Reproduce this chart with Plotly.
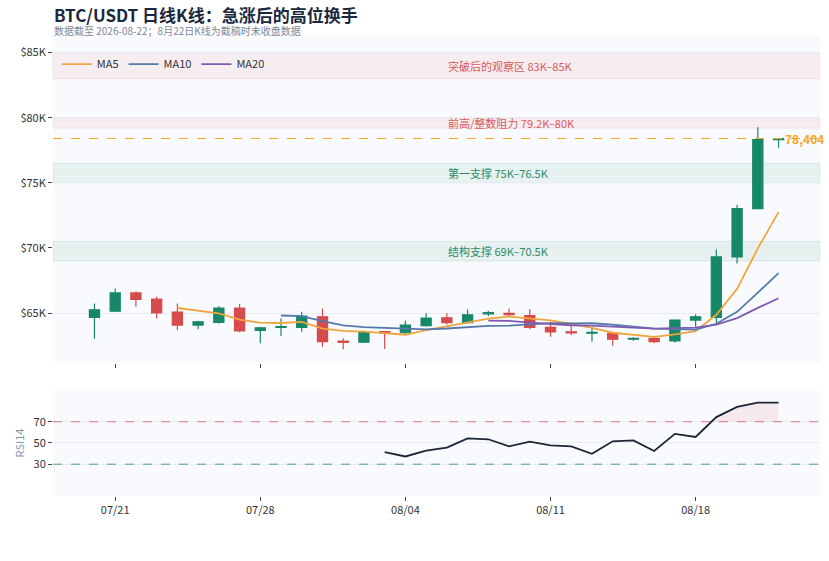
import plotly.graph_objects as go
from plotly.subplots import make_subplots
import pandas as pd

# ---------------- data ----------------
dates = ["2026-07-20", "2026-07-21", "2026-07-22", "2026-07-23", "2026-07-24", "2026-07-25",
         "2026-07-26", "2026-07-27", "2026-07-28", "2026-07-29", "2026-07-30", "2026-07-31",
         "2026-08-01", "2026-08-02", "2026-08-03", "2026-08-04", "2026-08-05", "2026-08-06",
         "2026-08-07", "2026-08-08", "2026-08-09", "2026-08-10", "2026-08-11", "2026-08-12",
         "2026-08-13", "2026-08-14", "2026-08-15", "2026-08-16", "2026-08-17", "2026-08-18",
         "2026-08-19", "2026-08-20", "2026-08-21", "2026-08-22"]
# prices in thousand USD
opens = [64.67, 65.15, 66.55, 66.07, 65.08, 64.08, 64.29, 65.38, 63.67, 63.90, 63.90, 64.72,
         62.85, 62.76, 63.58, 63.49, 64.03, 64.64, 64.26, 64.94, 64.98, 64.80, 63.90, 63.56,
         63.46, 63.45, 63.00, 63.06, 62.86, 64.46, 64.67, 69.31, 73.02, 78.32]
highs = [65.74, 66.89, 66.68, 66.25, 65.74, 64.41, 65.54, 65.69, 63.95, 64.59, 65.10, 65.36,
         63.06, 63.65, 63.62, 64.41, 64.98, 64.98, 65.28, 65.18, 65.36, 65.30, 64.33, 64.26,
         63.90, 63.57, 63.14, 63.24, 64.52, 64.92, 69.88, 73.32, 79.27, 78.45]
lows = [63.03, 65.10, 65.48, 64.59, 63.70, 63.75, 64.21, 63.52, 62.68, 63.24, 63.57, 62.42,
        62.22, 62.72, 62.24, 63.32, 63.95, 64.13, 64.18, 64.77, 64.77, 63.75, 63.18, 63.32,
        62.80, 62.50, 62.88, 62.68, 62.73, 63.95, 64.21, 68.80, 73.00, 77.69]
closes = [65.25, 66.55, 66.05, 65.02, 64.08, 64.33, 65.38, 63.64, 63.87, 63.97, 64.77, 62.80,
          62.75, 63.57, 63.48, 64.08, 64.62, 64.26, 64.87, 65.03, 64.88, 63.90, 63.55, 63.48,
          63.52, 63.00, 63.06, 62.80, 64.46, 64.72, 69.31, 73.02, 78.32, 78.404]

rsi_dates = ["2026-08-03", "2026-08-04", "2026-08-05", "2026-08-06", "2026-08-07", "2026-08-08",
             "2026-08-09", "2026-08-10", "2026-08-11", "2026-08-12", "2026-08-13", "2026-08-14",
             "2026-08-15", "2026-08-16", "2026-08-17", "2026-08-18", "2026-08-19", "2026-08-20",
             "2026-08-21", "2026-08-22"]
rsi_values = [41.4, 37.3, 42.7, 45.6, 54.4, 53.5, 46.8, 51.3, 47.8, 46.8, 39.8, 51.6,
              52.5, 42.4, 58.6, 55.7, 74.4, 84.0, 88.1, 88.1]

tick_dates = ["2026-07-21", "2026-07-28", "2026-08-04", "2026-08-11", "2026-08-18"]
tick_labels = ["07/21", "07/28", "08/04", "08/11", "08/18"]

price_ticks = [65, 70, 75, 80, 85]
price_tick_labels = ["$65K", "$70K", "$75K", "$80K", "$85K"]

zones_low = [83.0, 79.2, 75.0, 69.0]
zones_high = [85.0, 80.0, 76.5, 70.5]
zones_text = ["突破后的观察区 83K–85K", "前高/整数阻力 79.2K–80K", "第一支撑 75K–76.5K", "结构支撑 69K–70.5K"]
zones_kind = ["res", "res", "sup", "sup"]

ma_windows = [5, 10, 20]
ma_names = ["MA5", "MA10", "MA20"]
ma_colors = ["#f0a53c", "#5479ab", "#7d5cb0"]

last_close = closes[-1]

# ---------------- figure ----------------
FONT = "Noto Sans CJK SC"
UP = "#17876a"
DOWN = "#d64b4b"

fig = make_subplots(rows=2, cols=1, shared_xaxes=True)

fig.add_trace(go.Candlestick(
    x=dates, open=opens, high=highs, low=lows, close=closes,
    increasing=dict(line=dict(color=UP, width=1.2), fillcolor=UP),
    decreasing=dict(line=dict(color=DOWN, width=1.2), fillcolor=DOWN),
    showlegend=False, hoverinfo="skip"), row=1, col=1)

cs = pd.Series(closes, index=pd.to_datetime(dates))
for w, name, col in zip(ma_windows, ma_names, ma_colors):
    ma = cs.rolling(w).mean()
    fig.add_trace(go.Scatter(x=ma.index, y=ma.values, mode="lines", name=name,
                             line=dict(color=col, width=1.8)), row=1, col=1)

# RSI overbought fill
rd = pd.to_datetime(rsi_dates)
fx, fy = [], []
for i in range(len(rsi_values)):
    if rsi_values[i] >= 70:
        if i > 0 and rsi_values[i - 1] < 70:
            t = (70 - rsi_values[i - 1]) / (rsi_values[i] - rsi_values[i - 1])
            fx.append(rd[i - 1] + (rd[i] - rd[i - 1]) * t)
            fy.append(70)
        fx.append(rd[i])
        fy.append(rsi_values[i])
fig.add_trace(go.Scatter(x=fx, y=[70] * len(fx), mode="lines", line=dict(width=0),
                         showlegend=False, hoverinfo="skip"), row=2, col=1)
fig.add_trace(go.Scatter(x=fx, y=fy, mode="lines", line=dict(width=0), fill="tonexty",
                         fillcolor="rgba(225,90,100,0.10)", showlegend=False,
                         hoverinfo="skip"), row=2, col=1)
fig.add_trace(go.Scatter(x=rsi_dates, y=rsi_values, mode="lines", showlegend=False,
                         line=dict(color="#1c2638", width=1.8)), row=2, col=1)

# zones
for lo, hi, txt, kind in zip(zones_low, zones_high, zones_text, zones_kind):
    if kind == "res":
        fc, lc, tc = "rgba(225,110,125,0.09)", "rgba(225,110,125,0.12)", "#d65a5a"
    else:
        fc, lc, tc = "rgba(40,150,110,0.09)", "rgba(40,150,110,0.12)", "#2b8c66"
    fig.add_shape(type="rect", xref="x domain", yref="y", x0=0, x1=1, y0=lo, y1=hi,
                  fillcolor=fc, line=dict(color=lc, width=1), layer="below")
    fig.add_annotation(xref="x domain", yref="y", x=0.513, y=(lo + hi) / 2, text=txt,
                       showarrow=False, xanchor="left", yanchor="middle",
                       font=dict(family=FONT, size=11, color=tc))

# last close line
fig.add_shape(type="line", xref="x domain", yref="y", x0=0, x1=1, y0=last_close, y1=last_close,
              line=dict(color="#f5a623", width=1.2, dash="dash"))
fig.add_annotation(xref="x", yref="y", x=dates[-1], y=last_close,
                   text=f"<b>{last_close * 1000:,.0f}</b>", showarrow=False,
                   xanchor="left", yanchor="middle", xshift=4,
                   font=dict(family=FONT, size=12, color="#f5a623"))

# RSI guide lines
fig.add_shape(type="line", xref="x2 domain", yref="y2", x0=0, x1=1, y0=70, y1=70,
              line=dict(color="rgba(214,80,80,0.75)", width=1, dash="dash"))
fig.add_shape(type="line", xref="x2 domain", yref="y2", x0=0, x1=1, y0=30, y1=30,
              line=dict(color="rgba(30,140,100,0.8)", width=1, dash="dash"))

# titles
fig.add_annotation(xref="paper", yref="paper", x=0, y=1.044, xanchor="left", yanchor="middle",
                   text="<b>BTC/USDT 日线K线：急涨后的高位换手</b>", showarrow=False,
                   borderpad=0,
                   font=dict(family=FONT, size=17, color="#1b2940"))
fig.add_annotation(xref="paper", yref="paper", x=0, y=1.009, xanchor="left", yanchor="middle",
                   text="数据截至 2026-08-22；8月22日K线为截稿时未收盘数据", showarrow=False,
                   borderpad=0,
                   font=dict(family=FONT, size=10, color="#7b8799"))

xrange = ["2026-07-18", "2026-08-24"]
common_x = dict(range=xrange, tickvals=tick_dates, ticktext=tick_labels, ticks="outside",
                ticklen=4, tickcolor="#444", showgrid=False, zeroline=False, showline=False,
                automargin=False,
                tickfont=dict(family=FONT, size=11, color="#333"))
fig.update_xaxes(**common_x)
fig.update_xaxes(showticklabels=False, rangeslider=dict(visible=False), row=1, col=1)

fig.update_layout(
    width=829, height=561,
    margin=dict(l=53, r=9, t=35, b=65, autoexpand=False),
    paper_bgcolor="white", plot_bgcolor="#f9fafd",
    font=dict(family=FONT, size=11, color="#333"),
    showlegend=True,
    legend=dict(orientation="h", x=0.005, y=0.937, xanchor="left", yanchor="middle",
                traceorder="normal",
                bgcolor="rgba(0,0,0,0)", font=dict(family=FONT, size=11, color="#333"),
                itemwidth=30),
    yaxis=dict(domain=[0.288, 1.0], range=[61.15, 86.35], tickvals=price_ticks,
               ticktext=price_tick_labels, ticks="outside", ticklen=4, tickcolor="#444",
               gridcolor="#e8ecf2", zeroline=False, showline=False, automargin=False,
               tickfont=dict(family=FONT, size=11, color="#333")),
    yaxis2=dict(domain=[0.0, 0.23], range=[0, 100], tickvals=[30, 50, 70], ticks="outside",
                ticklen=4, tickcolor="#444", gridcolor="#e8ecf2", zeroline=False,
                showline=False, automargin=False,
                tickfont=dict(family=FONT, size=11, color="#333"),
                title=dict(text="RSI14", standoff=6,
                           font=dict(family=FONT, size=11, color="#8796ab"))),
)

fig.write_html("out.html", config={"displayModeBar": False},
               post_script="document.body.style.margin='0';document.body.style.overflow='hidden';")
